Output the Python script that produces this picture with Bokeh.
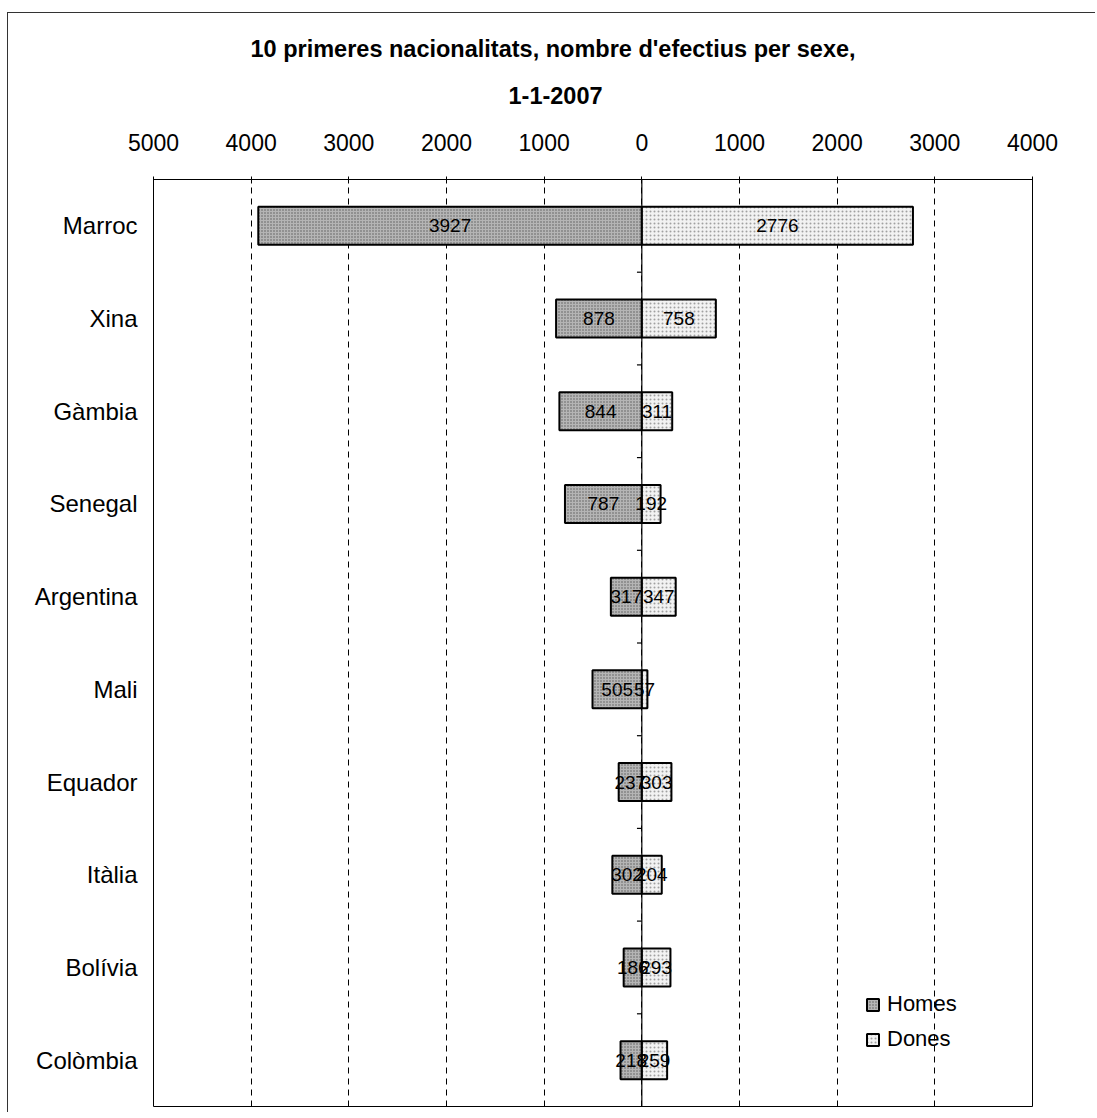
from bokeh.plotting import figure
from bokeh.models import (ColumnDataSource, FixedTicker, Legend, LegendItem, Title)
from bokeh.core.properties import value
from bokeh.embed import file_html
from bokeh.resources import INLINE

countries = ["Marroc", "Xina", "Gàmbia", "Senegal", "Argentina", "Mali",
             "Equador", "Itàlia", "Bolívia", "Colòmbia"]
homes = [3927, 878, 844, 787, 317, 505, 237, 302, 186, 218]
dones = [2776, 758, 311, 192, 347, 57, 303, 204, 293, 259]
x_ticks = [-5000, -4000, -3000, -2000, -1000, 0, 1000, 2000, 3000, 4000]
title_lines = ["10 primeres nacionalitats, nombre d'efectius per sexe,", "1-1-2007"]

n = len(countries)
ypos = [n - i - 0.5 for i in range(n)]
FONT = "Liberation Sans"

src = ColumnDataSource(dict(
    y=ypos, country=countries,
    hl=[-h for h in homes], hr=[0] * n, hx=[-h / 2 for h in homes], ht=[str(h) for h in homes],
    dl=[0] * n, dr=dones, dx=[d / 2 for d in dones], dt=[str(d) for d in dones],
))

p = figure(width=1088, height=1100, x_range=(-5000, 4000), y_range=(0, n),
           x_axis_location="above", output_backend="svg", toolbar_location=None,
           min_border_left=145, min_border_right=64, min_border_bottom=7,
           min_border_top=166)
p.margin = (12, 0, 0, 7)
p.styles = {"border-left": "1px solid #333", "border-top": "1px solid #333"}
p.background_fill_color = "white"
p.border_fill_color = "white"
p.outline_line_color = "black"
p.outline_line_width = 1

# top axis
xa = p.xaxis[0]
xa.ticker = FixedTicker(ticks=x_ticks)
xa.major_label_overrides = {t: str(abs(t)) for t in x_ticks}
xa.major_label_text_font = FONT
xa.major_label_text_font_size = "23px"
xa.major_label_text_color = "black"
xa.axis_line_color = "black"
xa.major_tick_in = 4
xa.major_tick_out = 3
xa.minor_tick_line_color = None
xa.major_label_standoff = 26

# left axis with category labels
ya = p.yaxis[0]
ya.ticker = FixedTicker(ticks=ypos)
ya.major_label_overrides = {y: c for y, c in zip(ypos, countries)}
ya.major_label_text_font = FONT
ya.major_label_text_font_size = "24px"
ya.major_label_text_color = "black"
ya.axis_line_color = None
ya.major_tick_line_color = None
ya.major_tick_out = 0
ya.major_tick_in = 0
ya.minor_tick_line_color = None
ya.major_label_standoff = 16

p.ygrid.grid_line_color = None
p.xgrid.ticker = FixedTicker(ticks=x_ticks)
p.xgrid.grid_line_color = "black"
p.xgrid.grid_line_dash = "6 5"
p.xgrid.grid_line_width = 1

# titles (two lines, centred on the whole chart area)
p.add_layout(Title(text=title_lines[1], align="left", text_font=FONT, text_font_size="23.5px",
                   text_font_style="bold", text_color="black", vertical_align="top",
                   standoff=50, offset=355), "above")
p.add_layout(Title(text=title_lines[0], align="left", text_font=FONT, text_font_size="23.5px",
                   text_font_style="bold", text_color="black", standoff=0, offset=97), "above")

bh = 0.41
r_h = p.hbar(y="y", left="hl", right="hr", height=bh, source=src,
             fill_color="#b5b5b5", line_color="black", line_width=2,
             hatch_pattern="dot", hatch_color="#5a5a5a", hatch_scale=3, hatch_weight=1)
r_d = p.hbar(y="y", left="dl", right="dr", height=bh, source=src,
             fill_color="#f2f2f2", line_color="black", line_width=2,
             hatch_pattern="dot", hatch_color="#a0a0a0", hatch_scale=4, hatch_weight=1)

# central category axis line with tick marks between categories
p.segment(x0=[0], y0=[0], x1=[0], y1=[n], line_color="black", line_width=1.2)
bounds = list(range(1, n))
p.segment(x0=[-50] * len(bounds), y0=bounds, x1=[0] * len(bounds), y1=bounds,
          line_color="black", line_width=1.2)

p.text(x="hx", y="y", text="ht", source=src, text_align="center", text_baseline="middle",
       text_font=value(FONT), text_font_size="19px", text_color="black")
p.text(x="dx", y="y", text="dt", source=src, text_align="center", text_baseline="middle",
       text_font=value(FONT), text_font_size="19px", text_color="black")

legend = Legend(items=[LegendItem(label="Homes", renderers=[r_h]),
                       LegendItem(label="Dones", renderers=[r_d])],
                location=(712, 54), border_line_color=None, background_fill_alpha=0,
                label_text_font=FONT, label_text_font_size="22px", label_text_color="black",
                glyph_width=15, glyph_height=15, spacing=9, padding=2, label_standoff=7)
p.add_layout(legend)

open("out.html", "w").write(file_html(p, INLINE))
